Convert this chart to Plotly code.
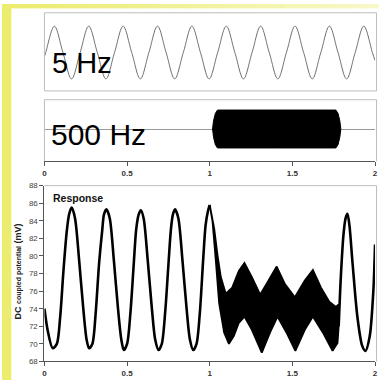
import plotly.graph_objects as go

W, H = 381, 385

# ---------------- data ----------------
# 5 Hz stimulus (top panel): quarter-period samples
stim_t = [0, 0.008, 0.06, 0.112, 0.164, 0.216, 0.268, 0.32, 0.372, 0.424, 0.476,
          0.528, 0.58, 0.632, 0.684, 0.736, 0.788, 0.84, 0.892, 0.944, 0.996,
          1.048, 1.10, 1.152, 1.204, 1.256, 1.308, 1.36, 1.412, 1.464, 1.516,
          1.568, 1.62, 1.672, 1.724, 1.776, 1.828, 1.88, 1.932, 1.984, 2.0]
stim_v = [-0.15, 0, 1, 0, -1, 0, 1, 0, -1, 0, 1,
          0, -1, 0, 1, 0, -1, 0, 1, 0, -1,
          0, 1, 0, -1, 0, 1, 0, -1, 0, 1,
          0, -1, 0, 1, 0, -1, 0, 1, 0, -0.3]

# 500 Hz burst envelope (middle panel)
burst_t = [1.017, 1.023, 1.034, 1.047, 1.40, 1.763, 1.776, 1.787, 1.793,
           1.787, 1.776, 1.763, 1.40, 1.047, 1.034, 1.023, 1.017]
burst_v = [0, 0.42, 0.8, 0.97, 0.97, 0.97, 0.8, 0.42, 0,
           -0.42, -0.8, -0.97, -0.97, -0.97, -0.8, -0.42, 0]

# Response before the burst
resp1_t = [0, 0.02, 0.05, 0.075, 0.095, 0.115, 0.135, 0.15, 0.165, 0.185, 0.21, 0.235, 0.255,
           0.27, 0.29, 0.31, 0.33, 0.35, 0.36, 0.375, 0.395, 0.42, 0.445, 0.465,
           0.48, 0.50, 0.52, 0.54, 0.555, 0.57, 0.583, 0.60, 0.625, 0.65, 0.67,
           0.69, 0.71, 0.73, 0.75, 0.765, 0.777, 0.79, 0.81, 0.835, 0.86, 0.88,
           0.9, 0.92, 0.94, 0.96, 0.975, 0.988, 1.0]
resp1_v = [74.0, 71.5, 69.5, 70.0, 73.0, 78.3, 82.8, 84.8, 85.5, 84.3, 79.5, 74.0, 70.5,
           69.5, 70.0, 73.5, 79.0, 83.0, 84.7, 85.3, 84.3, 79.5, 74.0, 70.5,
           69.3, 70.0, 73.5, 79.0, 83.0, 84.7, 85.2, 84.3, 79.5, 74.0, 70.5,
           69.3, 70.0, 73.5, 79.0, 83.0, 84.7, 85.3, 84.3, 79.5, 74.0, 70.5,
           69.3, 70.0, 73.5, 79.5, 83.5, 85.0, 85.8]

# Response band during the burst: upper and lower envelopes
band_up_t = [1.0, 1.027, 1.047, 1.067, 1.097, 1.136, 1.176, 1.21, 1.255, 1.305,
             1.355, 1.405, 1.455, 1.515, 1.575, 1.624, 1.673, 1.723, 1.763, 1.78]
band_up_v = [85.8, 83.1, 80.1, 77.6, 75.7, 76.4, 78.3, 79.2, 77.6, 75.6,
             77.2, 78.8, 76.8, 75.3, 77.2, 78.4, 76.4, 74.8, 74.2, 74.5]
band_lo_t = [1.0, 1.017, 1.037, 1.057, 1.087, 1.116, 1.146, 1.176, 1.21, 1.255,
             1.315, 1.365, 1.41, 1.464, 1.518, 1.575, 1.624, 1.684, 1.743, 1.773, 1.78]
band_lo_v = [85.8, 83.9, 79.4, 74.6, 71.3, 70.0, 70.9, 72.4, 73.1, 71.6,
             69.0, 71.3, 73.1, 71.3, 69.2, 71.6, 73.1, 71.3, 69.2, 70.1, 72.0]

# Response after the burst
resp2_t = [1.78, 1.793, 1.809, 1.822, 1.833, 1.845, 1.863, 1.893, 1.922, 1.942, 1.968, 1.99, 2.0]
resp2_v = [72.0, 77.6, 82.4, 84.3, 84.8, 83.5, 79.4, 73.1, 69.8, 69.2, 70.9, 76.1, 81.3]

x_tickvals = [0, 0.5, 1, 1.5, 2]
x_ticktext = ["0", "0.5", "1", "1.5", "2"]
y_tickvals = [68, 70, 72, 74, 76, 78, 80, 82, 84, 86, 88]

# ---------------- layout helpers ----------------
def px(x):
    return x / W

def py(y):
    return 1 - y / H

XL, XR = 43, 378
P1 = (9, 89)
P2 = (98, 161)
P3 = (186, 366)
FONT = "Liberation Sans, Arial, sans-serif"
AXC = "#555555"
BOX = "#bdbdbd"

fig = go.Figure()

fig.add_trace(go.Scatter(x=stim_t, y=stim_v, mode="lines", xaxis="x", yaxis="y",
                         line=dict(color="#707070", width=1, shape="spline", smoothing=1.0),
                         hoverinfo="skip", showlegend=False))
fig.add_trace(go.Scatter(x=burst_t, y=burst_v, mode="lines", xaxis="x2", yaxis="y2",
                         fill="toself", fillcolor="black",
                         line=dict(color="black", width=1),
                         hoverinfo="skip", showlegend=False))
fig.add_trace(go.Scatter(x=resp1_t, y=resp1_v, mode="lines", xaxis="x3", yaxis="y3",
                         line=dict(color="black", width=2.6, shape="spline", smoothing=0.8),
                         hoverinfo="skip", showlegend=False))
band_t = band_up_t + band_lo_t[::-1]
band_v = band_up_v + band_lo_v[::-1]
fig.add_trace(go.Scatter(x=band_t, y=band_v, mode="lines", xaxis="x3", yaxis="y3",
                         fill="toself", fillcolor="black",
                         line=dict(color="black", width=1.8),
                         hoverinfo="skip", showlegend=False))
fig.add_trace(go.Scatter(x=resp2_t, y=resp2_v, mode="lines", xaxis="x3", yaxis="y3",
                         line=dict(color="black", width=2.6, shape="spline", smoothing=0.8),
                         hoverinfo="skip", showlegend=False))

xdom = [px(XL), px(XR)]
common_x = dict(domain=xdom, range=[0, 2], showgrid=False, zeroline=False, fixedrange=True)

tickfont = dict(family=FONT, size=8, color="#333333", weight="bold")

fig.update_layout(
    width=W, height=H, margin=dict(l=0, r=0, t=0, b=0),
    paper_bgcolor="white", plot_bgcolor="white", showlegend=False,
    xaxis=dict(**common_x, visible=False, anchor="y"),
    yaxis=dict(domain=[py(P1[1]), py(P1[0])], range=[-1.456, 1.507], visible=False,
               anchor="x", showgrid=False, zeroline=False),
    xaxis2=dict(**common_x, anchor="y2", showline=True, linecolor=AXC, linewidth=1,
                ticks="outside", ticklen=4, tickcolor=AXC, tickvals=x_tickvals,
                ticktext=x_ticktext, tickfont=tickfont, ticklabeloverflow="allow"),
    yaxis2=dict(domain=[py(P2[1]), py(P2[0])], range=[-1.65, 1.5], anchor="x2",
                showgrid=False, zeroline=True, zerolinecolor="#9a9a9a", zerolinewidth=1,
                showticklabels=False, ticks=""),
    xaxis3=dict(**common_x, anchor="y3", showline=True, linecolor=AXC, linewidth=1,
                ticks="outside", ticklen=4, tickcolor=AXC, tickvals=x_tickvals,
                ticktext=x_ticktext, tickfont=tickfont, ticklabeloverflow="allow"),
    yaxis3=dict(domain=[py(P3[1]), py(P3[0])], range=[68, 88], anchor="x3",
                showgrid=False, zeroline=False, showline=True, linecolor=AXC, linewidth=1,
                ticks="outside", ticklen=4, tickcolor=AXC, tickvals=y_tickvals,
                tickfont=dict(family=FONT, size=8, color="#444444")),
)

shapes = []
# yellow frame: left strip and graded top strip
shapes.append(dict(type="rect", xref="paper", yref="paper", x0=0, x1=px(9.5), y0=0, y1=1,
                   fillcolor="#ecec6e", line=dict(width=0), layer="below"))
N = 24
c0 = (236, 236, 110)
c1 = (247, 247, 200)
for i in range(N):
    f = i / (N - 1)
    col = "rgb(%d,%d,%d)" % tuple(round(a + (b - a) * f) for a, b in zip(c0, c1))
    shapes.append(dict(type="rect", xref="paper", yref="paper",
                       x0=i / N, x1=(i + 1) / N + 0.002, y0=py(4.5), y1=1,
                       fillcolor=col, line=dict(width=0), layer="below"))
# panel 1 box
shapes.append(dict(type="rect", xref="paper", yref="paper", x0=px(XL), x1=px(379.5),
                   y0=py(P1[1]), y1=py(P1[0]), line=dict(color=BOX, width=1)))
# panel 2 and 3: grey top / side borders
for (top, bot), left in ((P2, True), (P3, False)):
    shapes.append(dict(type="line", xref="paper", yref="paper", x0=px(XL), x1=px(379.5),
                       y0=py(top), y1=py(top), line=dict(color=BOX, width=1)))
    shapes.append(dict(type="line", xref="paper", yref="paper", x0=px(379.5), x1=px(379.5),
                       y0=py(top), y1=py(bot), line=dict(color=BOX, width=1)))
    if left:
        shapes.append(dict(type="line", xref="paper", yref="paper", x0=px(XL), x1=px(XL),
                           y0=py(top), y1=py(bot), line=dict(color=BOX, width=1)))
fig.update_layout(shapes=shapes)

ann = [
    dict(text="5 Hz", xref="paper", yref="paper", x=px(49), y=py(60), xanchor="left",
         yanchor="middle", showarrow=False, font=dict(family=FONT, size=29, color="black")),
    dict(text="500 Hz", xref="paper", yref="paper", x=px(48), y=py(134), xanchor="left",
         yanchor="middle", showarrow=False, font=dict(family=FONT, size=30, color="black")),
    dict(text="<b>Response</b>", xref="paper", yref="paper", x=px(50), y=py(199),
         xanchor="left", yanchor="middle", showarrow=False,
         font=dict(family=FONT, size=10.5, color="#111111")),
    dict(text="<b>DC <span style='font-size:7px'>coupled potential</span> (mV)</b>",
         xref="paper", yref="paper", x=px(16), y=py(274), xanchor="center",
         yanchor="middle", textangle=-90, showarrow=False,
         font=dict(family=FONT, size=9, color="#222222")),
]
fig.update_layout(annotations=ann)

fig.write_html("out.html", config={"displayModeBar": False},
               post_script="document.body.style.margin='0';document.body.style.overflow='hidden';")
